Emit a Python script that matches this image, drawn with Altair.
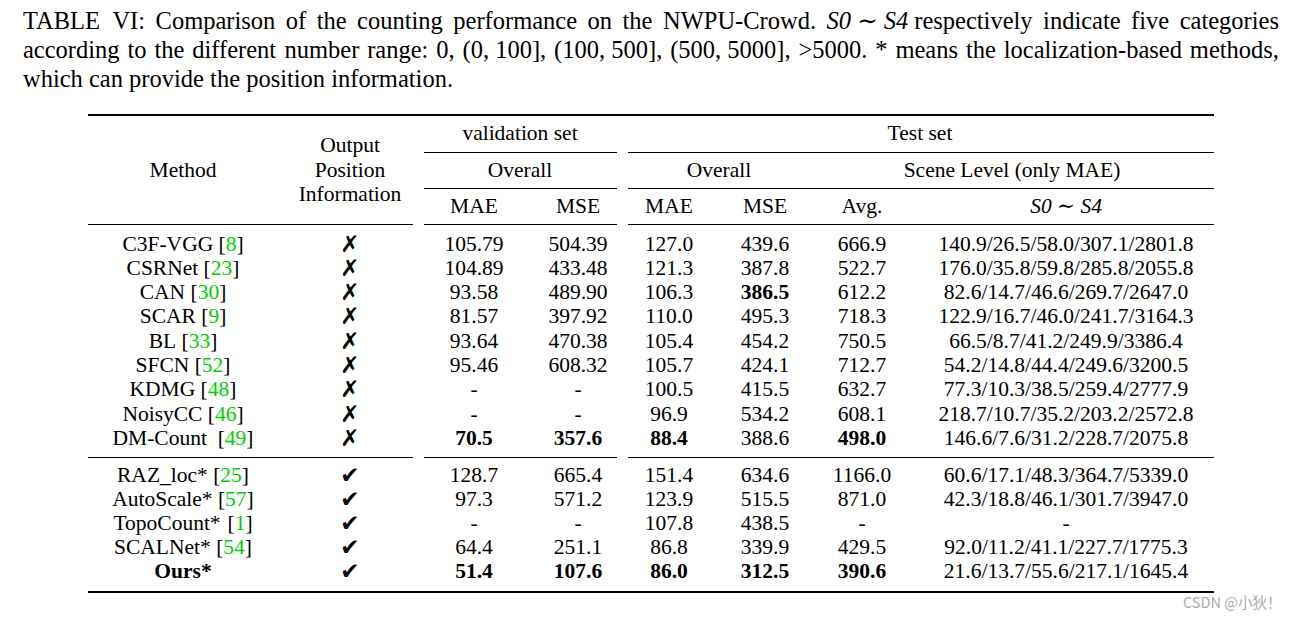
import altair as alt
import pandas as pd

# ---------------- data ----------------
caption_line1 = ["TABLE", "VI:", "Comparison", "of", "the", "counting", "performance", "on", "the",
                 "NWPU-Crowd.", "S0 \u223c S4", "respectively", "indicate", "five", "categories"]
caption_line1_italic = [False] * 10 + [True] + [False] * 4
caption_line2 = ["according", "to", "the", "different", "number", "range:", "0,", "(0, 100],",
                 "(100, 500],", "(500, 5000],", ">5000.", "*", "means", "the", "localization-based", "methods,"]
caption_line3 = "which can provide the position information."

methods = ["C3F-VGG", "CSRNet", "CAN", "SCAR", "BL", "SFCN", "KDMG", "NoisyCC", "DM-Count",
           "RAZ_loc*", "AutoScale*", "TopoCount*", "SCALNet*", "Ours*"]
citations = ["8", "23", "30", "9", "33", "52", "48", "46", "49", "25", "57", "1", "54", ""]
position_info = [False] * 9 + [True] * 5
val_mae = ["105.79", "104.89", "93.58", "81.57", "93.64", "95.46", "-", "-", "70.5",
           "128.7", "97.3", "-", "64.4", "51.4"]
val_mse = ["504.39", "433.48", "489.90", "397.92", "470.38", "608.32", "-", "-", "357.6",
           "665.4", "571.2", "-", "251.1", "107.6"]
test_mae = ["127.0", "121.3", "106.3", "110.0", "105.4", "105.7", "100.5", "96.9", "88.4",
            "151.4", "123.9", "107.8", "86.8", "86.0"]
test_mse = ["439.6", "387.8", "386.5", "495.3", "454.2", "424.1", "415.5", "534.2", "388.6",
            "634.6", "515.5", "438.5", "339.9", "312.5"]
test_avg = ["666.9", "522.7", "612.2", "718.3", "750.5", "712.7", "632.7", "608.1", "498.0",
            "1166.0", "871.0", "-", "429.5", "390.6"]
scene_s0_s4 = ["140.9/26.5/58.0/307.1/2801.8", "176.0/35.8/59.8/285.8/2055.8",
               "82.6/14.7/46.6/269.7/2647.0", "122.9/16.7/46.0/241.7/3164.3",
               "66.5/8.7/41.2/249.9/3386.4", "54.2/14.8/44.4/249.6/3200.5",
               "77.3/10.3/38.5/259.4/2777.9", "218.7/10.7/35.2/203.2/2572.8",
               "146.6/7.6/31.2/228.7/2075.8", "60.6/17.1/48.3/364.7/5339.0",
               "42.3/18.8/46.1/301.7/3947.0", "-", "92.0/11.2/41.1/227.7/1775.3",
               "21.6/13.7/55.6/217.1/1645.4"]
bold_cells = [(2, "test_mse"), (8, "val_mae"), (8, "val_mse"), (8, "test_mae"), (8, "test_avg"),
              (13, "method"), (13, "val_mae"), (13, "val_mse"), (13, "test_mae"),
              (13, "test_mse"), (13, "test_avg")]
watermark = "CSDN @\u5c0f\u72c4\uff01"

# ---------------- layout ----------------
SERIF = "Liberation Serif, Times New Roman, DejaVu Serif, serif"
FS_CAP = 24.5
FS = 21.5
GREEN = "#00d000"

TIMES = {' ': 250, '!': 333, '*': 500, '(': 333, ')': 333, ',': 250, '-': 333, '.': 250, '/': 278,
         ':': 278, '>': 564, '[': 333, ']': 333, '_': 500, '\u223c': 541,
         'A': 722, 'B': 667, 'C': 667, 'D': 722, 'E': 611, 'F': 556, 'G': 722, 'H': 722, 'I': 333,
         'J': 389, 'K': 722, 'L': 611, 'M': 889, 'N': 722, 'O': 722, 'P': 556, 'Q': 722, 'R': 667,
         'S': 556, 'T': 611, 'U': 722, 'V': 722, 'W': 944, 'X': 722, 'Y': 722, 'Z': 611,
         'a': 444, 'b': 500, 'c': 444, 'd': 500, 'e': 444, 'f': 333, 'g': 500, 'h': 500, 'i': 278,
         'j': 278, 'k': 500, 'l': 278, 'm': 778, 'n': 500, 'o': 500, 'p': 500, 'q': 500, 'r': 333,
         's': 389, 't': 278, 'u': 500, 'v': 500, 'w': 722, 'x': 500, 'y': 500, 'z': 444}


def tw(s, fs):
    return sum(TIMES.get(c, 500) for c in s) / 1000.0 * fs


X0, X1 = 8, 1283
Y0, Y1 = 8, 618
xs = alt.Scale(domain=[X0, X1], nice=False, zero=False)
ys = alt.Scale(domain=[Y0, Y1], nice=False, zero=False, reverse=True)

items = []  # dicts: x, y, text, fs, color, kind


def add(kind, x, y, text, fs=FS, color="black"):
    items.append(dict(x=x, y=y, text=text, fs=fs, color=color, kind=kind))


# caption (justified lines 1-2)
CAP_L, CAP_R = 23, 1279
cap_base = [29, 58, 87]
for li, (words, ital) in enumerate([(caption_line1, caption_line1_italic),
                                    (caption_line2, [False] * len(caption_line2))]):
    widths = [tw(w, FS_CAP) for w in words]
    gap = (CAP_R - CAP_L - sum(widths)) / (len(words) - 1)
    x = CAP_L
    for w, wd, it in zip(words, widths, ital):
        add("cap_it" if it else "left", x, cap_base[li], w, FS_CAP)
        x += wd + gap
add("left", CAP_L, cap_base[2], caption_line3, FS_CAP)

# header
add("center", 183, 177, "Method")
add("center", 350, 152, "Output")
add("center", 350, 177, "Position")
add("center", 350, 201, "Information")
add("center", 520, 140, "validation set")
add("center", 920, 140, "Test set")
add("center", 520, 177, "Overall")
add("center", 719, 177, "Overall")
add("center", 1012, 177, "Scene Level (only MAE)")
add("center", 474, 213, "MAE")
add("center", 578, 213, "MSE")
add("center", 669, 213, "MAE")
add("center", 765, 213, "MSE")
add("center", 862, 213, "Avg.")
add("center_it", 1066, 213, "S0 \u223c S4")

# body
col_x = {"val_mae": 474, "val_mse": 578, "test_mae": 669, "test_mse": 765, "test_avg": 862,
         "scene": 1066}
cols = {"val_mae": val_mae, "val_mse": val_mse, "test_mae": test_mae, "test_mse": test_mse,
        "test_avg": test_avg, "scene": scene_s0_s4}
row_base = [250.5 + 24.3 * i for i in range(9)] + [481.7 + 24.0 * i for i in range(5)]
bold = set(bold_cells)
METHOD_CX = 183
for i, name in enumerate(methods):
    yb = row_base[i]
    cite = citations[i]
    if cite:
        nsp = 2 if name == "DM-Count" else 1
        w_name = tw(name, FS)
        w_sp = nsp * tw(" ", FS)
        w_lb = tw("[", FS)
        w_num = tw(cite, FS)
        total = w_name + w_sp + w_lb + w_num + tw("]", FS)
        L = METHOD_CX - total / 2
        add("left", L, yb, name)
        add("left", L + w_name + w_sp, yb, "[")
        add("left", L + w_name + w_sp + w_lb, yb, cite, color=GREEN)
        add("left", L + w_name + w_sp + w_lb + w_num, yb, "]")
    else:
        add("center_b" if (i, "method") in bold else "center", METHOD_CX, yb, name)
    add("check", 350, yb + 1, "\u2714" if position_info[i] else "\u2717", fs=23)
    for c, vals in cols.items():
        add("center_b" if (i, c) in bold else "center", col_x[c], yb, vals[i])

add("wm", 1183, 608, watermark, fs=14.5, color="#ababab")

df = pd.DataFrame(items)

# rules
rules = pd.DataFrame([
    dict(x=88, x2=1214, y=115, w=2.2),
    dict(x=424, x2=617, y=152.5, w=1.2), dict(x=628, x2=1214, y=152.5, w=1.2),
    dict(x=424, x2=617, y=188.5, w=1.2), dict(x=628, x2=1214, y=188.5, w=1.2),
    dict(x=88, x2=413, y=224.5, w=1.2), dict(x=424, x2=617, y=224.5, w=1.2),
    dict(x=628, x2=1214, y=224.5, w=1.2),
    dict(x=88, x2=413, y=457.5, w=1.2), dict(x=424, x2=617, y=457.5, w=1.2),
    dict(x=628, x2=1214, y=457.5, w=1.2),
    dict(x=88, x2=1214, y=592, w=2.2),
])


def text_layer(kind, font, align, weight="normal", style="normal"):
    return alt.Chart(df[df.kind == kind]).mark_text(
        font=font, fontWeight=weight, fontStyle=style, align=align, baseline="alphabetic"
    ).encode(
        x=alt.X("x:Q", scale=xs, axis=None),
        y=alt.Y("y:Q", scale=ys, axis=None),
        text="text:N",
        size=alt.Size("fs:Q", scale=None, legend=None),
        color=alt.Color("color:N", scale=None, legend=None),
    )


rule_layer = alt.Chart(rules).mark_rule(color="black").encode(
    x=alt.X("x:Q", scale=xs, axis=None),
    x2="x2:Q",
    y=alt.Y("y:Q", scale=ys, axis=None),
    size=alt.Size("w:Q", scale=None, legend=None),
)

chart = alt.layer(
    rule_layer,
    text_layer("left", SERIF, "left"),
    text_layer("cap_it", SERIF, "left", style="italic"),
    text_layer("center", SERIF, "center"),
    text_layer("center_b", SERIF, "center", weight="bold"),
    text_layer("center_it", SERIF, "center", style="italic"),
    text_layer("check", "DejaVu Sans", "center"),
    text_layer("wm", "Noto Sans CJK SC", "left"),
).properties(
    width=X1 - X0, height=Y1 - Y0, autosize=alt.AutoSizeParams(type="none"), padding=0,
    background="white",
).configure_view(strokeWidth=0)

chart.save("out.html", embed_options={"renderer": "svg", "actions": False})
